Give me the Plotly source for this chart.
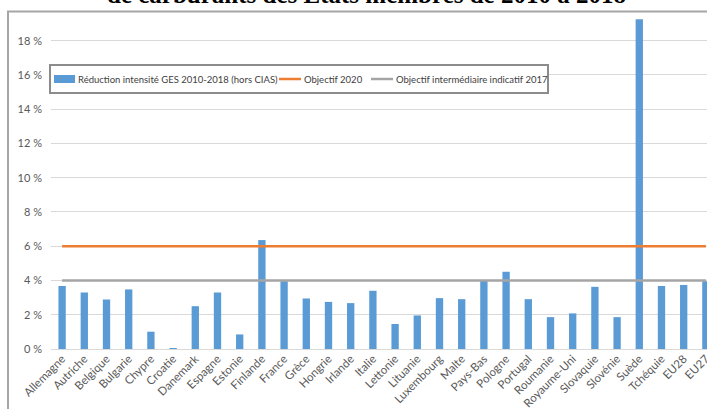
import plotly.graph_objects as go

# Member states (plus EU aggregates), in display order
pays = [
    "Allemagne", "Autriche", "Belgique", "Bulgarie", "Chypre", "Croatie",
    "Danemark", "Espagne", "Estonie", "Finlande", "France", "Grèce",
    "Hongrie", "Irlande", "Italie", "Lettonie", "Lituanie", "Luxembourg",
    "Malte", "Pays-Bas", "Pologne", "Portugal", "Roumanie", "Royaume-Uni",
    "Slovaquie", "Slovénie", "Suède", "Tchéquie", "EU28", "EU27",
]

# GHG intensity reduction 2010-2018 (excluding CIAS), in %
reduction_ges = [
    3.68, 3.30, 2.89, 3.48, 1.01, 0.03,
    2.50, 3.30, 0.85, 6.36, 3.96, 2.95,
    2.75, 2.68, 3.40, 1.46, 1.96, 2.97,
    2.91, 4.00, 4.51, 2.91, 1.86, 2.08,
    3.63, 1.86, 19.26, 3.68, 3.74, 3.96,
]

# Targets, in %
objectif_2020 = 6
objectif_2017 = 4

y_ticks = [0, 2, 4, 6, 8, 10, 12, 14, 16, 18]
y_labels = ["0 %", "2 %", "4 %", "6 %", "8 %", "10 %", "12 %", "14 %", "16 %", "18 %"]

nom_barres = "Réduction intensité GES 2010-2018 (hors CIAS)"
nom_2020 = "Objectif 2020"
nom_2017 = "Objectif intermédiaire indicatif 2017"

BLUE = "#5b9bd5"
ORANGE = "#ed7d31"
GREY = "#a5a5a5"
TEXT = "#595959"

W, H = 707, 409
ML, MR, MT, MB = 51, 0, 14, 60
PW, PH = W - ML - MR, H - MT - MB


def px_x(p):
    return (p - ML) / PW


def px_y(p):
    return (H - MB - p) / PH


fig = go.Figure()

fig.add_trace(go.Bar(
    x=pays, y=reduction_ges, name=nom_barres,
    marker=dict(color=BLUE, line=dict(width=0)),
    width=0.33, showlegend=False,
))
fig.add_trace(go.Scatter(
    x=pays, y=[objectif_2020] * len(pays), name=nom_2020, mode="lines",
    line=dict(color=ORANGE, width=2.5), showlegend=False,
))
fig.add_trace(go.Scatter(
    x=pays, y=[objectif_2017] * len(pays), name=nom_2017, mode="lines",
    line=dict(color=GREY, width=2.5), showlegend=False,
))

# Legend box drawn in the upper-left of the chart
leg_font = dict(family="Lato, Carlito, Calibri, sans-serif", size=9.5, color="#404040")
leg_y = 79
shapes = [
    # outer chart frame
    dict(type="rect", xref="paper", yref="paper",
         x0=px_x(8), x1=px_x(760), y0=px_y(460), y1=px_y(11.5),
         line=dict(color="#a6a6a6", width=2), fillcolor="rgba(0,0,0,0)", layer="above"),
    # legend frame
    dict(type="rect", xref="paper", yref="paper",
         x0=px_x(50), x1=px_x(548), y0=px_y(93), y1=px_y(65),
         line=dict(color="#8c8c8c", width=2), fillcolor="white", layer="above"),
    # legend swatches
    dict(type="rect", xref="paper", yref="paper",
         x0=px_x(54), x1=px_x(75), y0=px_y(leg_y + 4), y1=px_y(leg_y - 4),
         line=dict(width=0), fillcolor=BLUE, layer="above"),
    dict(type="line", xref="paper", yref="paper",
         x0=px_x(279), x1=px_x(301), y0=px_y(leg_y), y1=px_y(leg_y),
         line=dict(color=ORANGE, width=2.5), layer="above"),
    dict(type="line", xref="paper", yref="paper",
         x0=px_x(371), x1=px_x(393), y0=px_y(leg_y), y1=px_y(leg_y),
         line=dict(color=GREY, width=2.5), layer="above"),
]
annotations = [
    dict(text=nom_barres, xref="paper", yref="paper", x=px_x(76), y=px_y(leg_y),
         xanchor="left", yanchor="middle", showarrow=False, font=leg_font),
    dict(text=nom_2020, xref="paper", yref="paper", x=px_x(302), y=px_y(leg_y),
         xanchor="left", yanchor="middle", showarrow=False, font=leg_font),
    dict(text=nom_2017, xref="paper", yref="paper", x=px_x(394), y=px_y(leg_y),
         xanchor="left", yanchor="middle", showarrow=False, font=leg_font),
    # heading above the chart frame
    dict(text="<b>de carburants des États membres de 2010 à 2018</b>",
         xref="paper", yref="paper", x=px_x(366), y=px_y(-5.5),
         xanchor="center", yanchor="middle", showarrow=False,
         font=dict(family="Liberation Serif, Times New Roman, serif", size=25, color="black")),
]

fig.update_layout(
    width=W, height=H, autosize=False,
    margin=dict(l=ML, r=MR, t=MT, b=MB, pad=0),
    paper_bgcolor="white", plot_bgcolor="white",
    font=dict(family="Lato, Carlito, Calibri, sans-serif", color=TEXT),
    showlegend=False,
    xaxis=dict(
        type="category", range=[-0.5, 29.05], automargin=False,
        showgrid=False, showline=False, ticks="", zeroline=False,
        tickangle=-45, ticklabelstandoff=0,
        tickfont=dict(size=11.5, color=TEXT),
    ),
    yaxis=dict(
        range=[0, 19.56], tickvals=y_ticks, ticktext=y_labels, automargin=False,
        showgrid=True, gridcolor="#d9d9d9", gridwidth=1,
        zeroline=True, zerolinecolor="#d9d9d9", zerolinewidth=1,
        showline=False, ticks="", ticklabelstandoff=8,
        tickfont=dict(size=11, color=TEXT),
    ),
    shapes=shapes,
    annotations=annotations,
)

fig.write_html("out.html")
